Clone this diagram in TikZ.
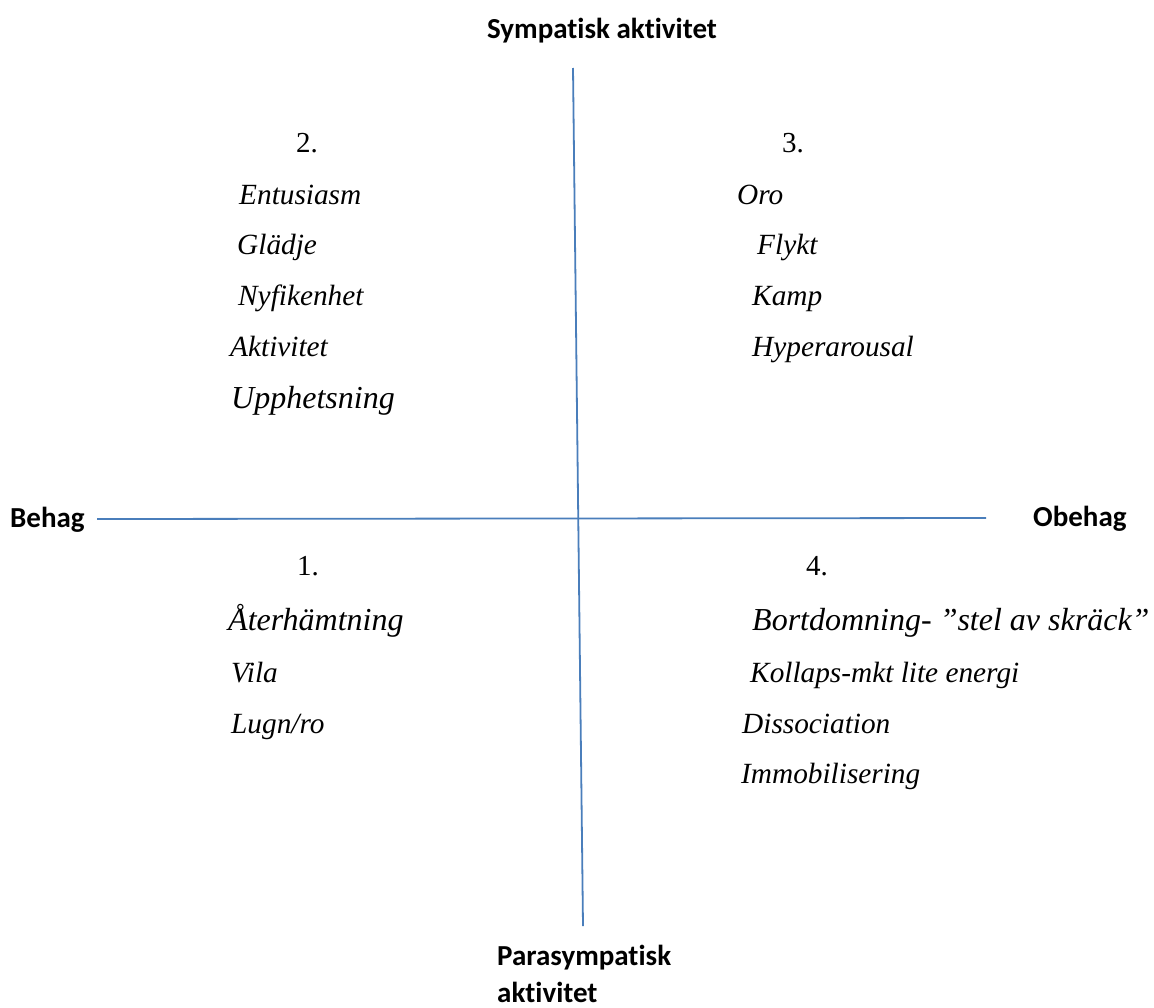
\documentclass[tikz,border=0pt]{standalone}
\usepackage{fontspec}
\setmainfont{Liberation Serif}
\newfontfamily\lblfont[Ligatures=NoCommon]{Carlito}
\definecolor{axisblue}{HTML}{4A7EBB}
\begin{document}
\begin{tikzpicture}[x=1pt,y=-1pt,
  axis/.style={draw=axisblue,line width=1.8pt},
  axlabel/.style={font=\lblfont\bfseries\fontsize{29}{34}\selectfont,inner sep=0pt},
  qnum/.style={font=\fontsize{29}{34}\selectfont,inner sep=0pt,anchor=base west},
  item/.style={font=\itshape\fontsize{29.3}{34}\selectfont,inner sep=0pt,anchor=base west},
  bigitem/.style={font=\itshape\fontsize{32}{36}\selectfont,inner sep=0pt,anchor=base west}]
\useasboundingbox (0,0) rectangle (1154,1007);
% axes
\coordinate (vtop) at (573,68);
\coordinate (vbot) at (583,926);
\coordinate (hleft) at (97,519);
\coordinate (hright) at (986,518);
\draw[axis] (vtop) -- (vbot);
\draw[axis] (hleft) -- (hright);
% axis labels
\node[axlabel,anchor=base] (symp) at (602,38) {Sympatisk aktivitet};
\node[axlabel,anchor=base west] (behag) at (10,527) {Behag};
\node[axlabel,anchor=base west] (obehag) at (1033,526) {Obehag};
\node[axlabel,anchor=base west] (para1) at (497,965) {Parasympatisk};
\node[axlabel,anchor=base west] (para2) at (497,1002) {aktivitet};
% quadrant 2
\node[qnum] (n2) at (296,152) {2.};
\node[item] (q2a) at (239,204) {Entusiasm};
\node[item] (q2b) at (237,254) {Glädje};
\node[item] (q2c) at (238,305) {Nyfikenhet};
\node[item] (q2d) at (230,356) {Aktivitet};
\node[bigitem] (q2e) at (231,408) {Upphetsning};
% quadrant 3
\node[qnum] (n3) at (782,152) {3.};
\node[item] (q3a) at (737,204) {Oro};
\node[item] (q3b) at (757,254) {Flykt};
\node[item] (q3c) at (752,305) {Kamp};
\node[item] (q3d) at (752,356) {Hyperarousal};
% quadrant 1
\node[qnum] (n1) at (297,575) {1.};
\node[bigitem] (q1a) at (228,630) {Återhämtning};
\node[item] (q1b) at (231,682) {Vila};
\node[item] (q1c) at (231,733) {Lugn/ro};
% quadrant 4
\node[qnum] (n4) at (806,575) {4.};
\node[bigitem] (q4a) at (752,630) {Bortdomning- ”stel av skräck”};
\node[item] (q4b) at (750,682) {Kollaps-mkt lite energi};
\node[item] (q4c) at (742,733) {Dissociation};
\node[item] (q4d) at (741,783) {Immobilisering};
\end{tikzpicture}
\end{document}
